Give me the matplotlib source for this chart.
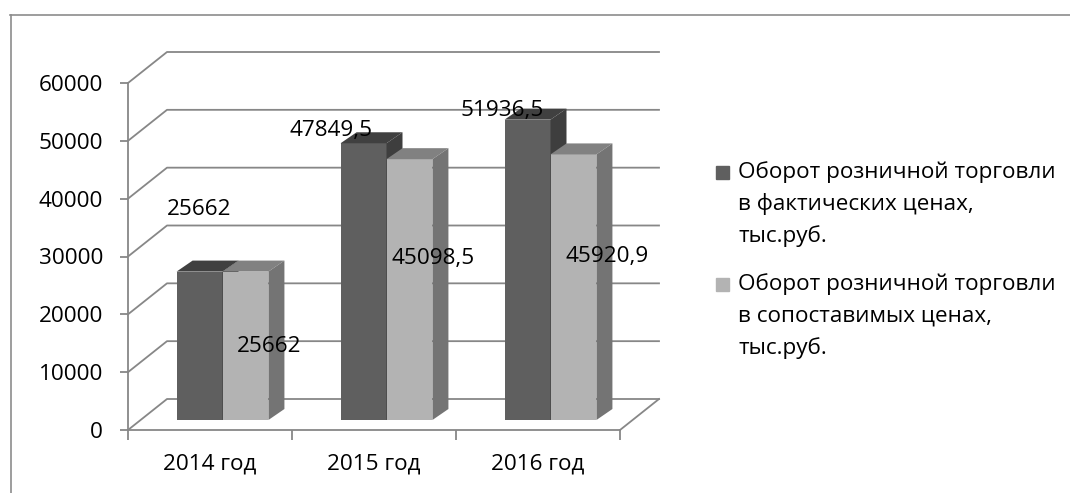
import numpy as np
import matplotlib
matplotlib.use('Agg')
import matplotlib.pyplot as plt
from matplotlib.patches import Polygon, Rectangle
from matplotlib.lines import Line2D

plt.rcParams['font.family'] = ['Open Sans', 'DejaVu Sans']

# data
years = ['2014 год', '2015 год', '2016 год']
actual = [25662, 47849.5, 51936.5]
comparable = [25662, 45098.5, 45920.9]
series_names = ['Оборот розничной торговли\nв фактических ценах,\nтыс.руб.',
                'Оборот розничной торговли\nв сопоставимых ценах,\nтыс.руб.']
yticks = [0, 10000, 20000, 30000, 40000, 50000, 60000]

# label offsets from the bar top (pixels)
label_offsets = [[(0, 62), (-32, 13), (-25, 9)],
                 [(24, -75), (24, -99), (34, -102)]]

W, H = 1070, 493
fig = plt.figure(figsize=(W / 100, H / 100), dpi=100)
left, right, top, bottom = 128, 620, 83, 430  # front plane, px
ax = fig.add_axes([left / W, 1 - bottom / H, (right - left) / W, (bottom - top) / H])
ax.set_xlim(0, 3)
ax.set_ylim(0, 60000)
ax.patch.set_visible(False)

ux = (right - left) / 3.0       # px per category
uy = (bottom - top) / 60000.0   # px per unit of value
def dx(px): return px / ux
def dy(px): return px / uy

grey = '#878787'
fs = 16.2

# back wall gridlines and floor
wx, wy = dx(39), dy(31)
for v in yticks:
    ax.plot([0, wx, 3 + wx], [v, v + wy, v + wy], color=grey, lw=1.3,
            clip_on=False, zorder=1)
ax.plot([3, 3 + wx], [0, wy], color=grey, lw=1.3, clip_on=False, zorder=1)

# 3d bars
bw = 0.28
bx, by = dx(12.5), dy(10)
bdx, bdy = dx(16), dy(11)
styles = [('#5f5f5f', '#404040', '#3e3e3e'),
          ('#b3b3b3', '#818181', '#747474')]
for s, vals in enumerate([actual, comparable]):
    front, topc, side = styles[s]
    x0 = np.arange(len(years)) + 0.5 - bw + s * bw + bx
    ax.bar(x0, vals, bw, bottom=by, align='edge', color=front, zorder=3 + s)
    for i, v in enumerate(vals):
        xa, xb = x0[i], x0[i] + bw
        ax.add_patch(Polygon([(xa, v + by), (xb, v + by), (xb + bdx, v + by + bdy),
                              (xa + bdx, v + by + bdy)], closed=True, color=topc,
                             lw=0, zorder=3 + s))
        ax.add_patch(Polygon([(xb, by), (xb, v + by), (xb + bdx, v + by + bdy),
                              (xb + bdx, by + bdy)], closed=True, color=side,
                             lw=0, zorder=3 + s))
        txt = f'{v:g}'.replace('.', ',')
        ox, oy = label_offsets[s][i]
        ax.annotate(txt, (xa + bw / 2, v + by), xytext=(ox, oy),
                    textcoords='offset pixels', ha='center', va='center',
                    fontsize=fs, color='black', zorder=10)

# axes
for sp in ['top', 'right']:
    ax.spines[sp].set_visible(False)
for sp in ['left', 'bottom']:
    ax.spines[sp].set_color(grey)
    ax.spines[sp].set_linewidth(1.3)
ax.set_yticks(yticks)
ax.set_yticklabels([str(v) for v in yticks], fontsize=fs)
ax.tick_params(axis='y', length=6, width=1.3, color=grey, pad=12)
ax.set_xticks([0, 1, 2, 3])
ax.set_xticklabels([])
ax.tick_params(axis='x', which='major', length=7, width=1.3, color=grey)
ax.set_xticks([0.5, 1.5, 2.5], minor=True)
ax.set_xticklabels(years, minor=True, fontsize=fs)
ax.tick_params(axis='x', which='minor', length=0, pad=17)

# legend
leg_x, line_h = 738, 32
for s, name in enumerate(series_names):
    y0 = 172 + s * 112
    fig.patches.append(Rectangle(((leg_x - 22) / W, 1 - (y0 + 6.5) / H), 13 / W, 13 / H,
                                 transform=fig.transFigure, color=styles[s][0]))
    for k, line in enumerate(name.split('\n')):
        fig.text(leg_x / W, 1 - (y0 + k * line_h) / H, line, fontsize=fs,
                 ha='left', va='center')

# outer frame
fig.add_artist(Line2D([10 / W, 1], [1 - 15 / H, 1 - 15 / H], color='#8c8c8c', lw=1.2))
fig.add_artist(Line2D([11 / W, 11 / W], [0, 1 - 15 / H], color='#8c8c8c', lw=1.2))

fig.savefig('out.png', dpi=100)
